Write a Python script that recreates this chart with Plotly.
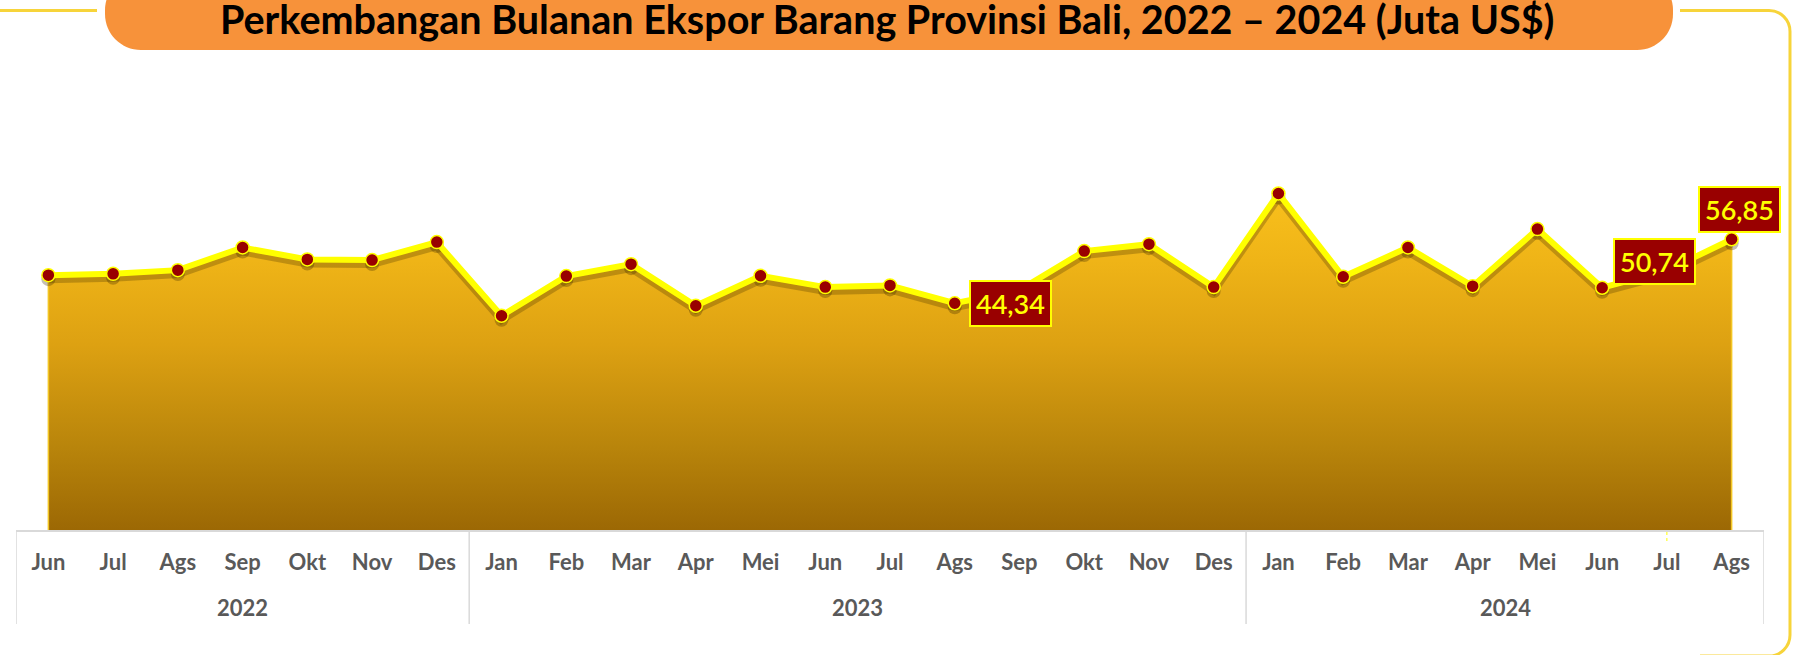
import plotly.graph_objects as go

# ---------------- data ----------------
months = ["Jun", "Jul", "Ags", "Sep", "Okt", "Nov", "Des",
          "Jan", "Feb", "Mar", "Apr", "Mei", "Jun", "Jul", "Ags", "Sep", "Okt", "Nov", "Des",
          "Jan", "Feb", "Mar", "Apr", "Mei", "Jun", "Jul", "Ags"]
years = ["2022"] * 7 + ["2023"] * 12 + ["2024"] * 8
ekspor = [49.84, 50.10, 50.82, 55.25, 52.91, 52.78, 56.30,
          41.89, 49.65, 51.99, 43.85, 49.72, 47.50, 47.83, 44.34, 46.90, 54.54, 55.90, 47.50,
          65.81, 49.52, 55.25, 47.69, 58.84, 47.37, 50.74, 56.85]
labelled_points = [14, 25, 26]
title_text = "Perkembangan Bulanan Ekspor Barang Provinsi Bali, 2022 – 2024 (Juta US$)"

# ---------------- geometry helpers ----------------
W, H = 1796, 655
L, R, T, B = 16, 32, 80, 125
PW, PH = W - L - R, H - T - B
Y_MAX = 88.0


def px(x):
    return (x - L) / PW


def py(y):
    return (H - B - y) / PH


def path(cmds):
    out = []
    for c in cmds:
        op, pts = c[0], c[1:]
        if op == "Z":
            out.append("Z")
            continue
        coords = []
        for i in range(0, len(pts), 2):
            coords.append(f"{px(pts[i]):.5f},{py(pts[i+1]):.5f}")
        out.append(op + " " + " ".join(coords))
    return " ".join(out)


def rrect(x0, y0, x1, y1, r):
    k = 0.5523 * r
    return path([
        ("M", x0 + r, y0), ("L", x1 - r, y0),
        ("C", x1 - r + k, y0, x1, y0 + r - k, x1, y0 + r),
        ("L", x1, y1 - r),
        ("C", x1, y1 - r + k, x1 - r + k, y1, x1 - r, y1),
        ("L", x0 + r, y1),
        ("C", x0 + r - k, y1, x0, y1 - r + k, x0, y1 - r),
        ("L", x0, y0 + r),
        ("C", x0, y0 + r - k, x0 + r - k, y0, x0 + r, y0),
        ("Z",),
    ])


idx = list(range(len(months)))
n = len(months)

fig = go.Figure()

# area fill (polygon closed down to zero)
fig.add_trace(go.Scatter(
    x=[idx[0]] + idx + [idx[-1]],
    y=[0] + ekspor + [0],
    mode="lines",
    fill="toself",
    line=dict(color="#F3C623", width=1.5),
    fillgradient=dict(type="vertical",
                      colorscale=[[0, "#9C6804"], [0.25, "#B9850B"], [0.55, "#DDA112"],
                                  [0.8, "#EFB417"], [1, "#F9C01C"]]),
    hoverinfo="skip", showlegend=False, yaxis="y",
))

# drop shadow of line
fig.add_trace(go.Scatter(
    x=idx, y=ekspor, mode="lines+markers",
    line=dict(color="rgba(80,55,0,0.30)", width=8),
    marker=dict(size=14, color="rgba(60,40,0,0.30)"),
    hoverinfo="skip", showlegend=False, yaxis="y2",
))

# main line
fig.add_trace(go.Scatter(
    x=idx, y=ekspor, mode="lines+markers",
    line=dict(color="#FFFF00", width=6),
    marker=dict(size=13, color="#990000", line=dict(color="#FFFF00", width=1.5)),
    showlegend=False, yaxis="y3", cliponaxis=False,
))

# value labels
label_offsets = {14: (56, 0), 25: (-12, 9), 26: (8, 30)}
annotations = []
for i in labelled_points:
    dx, dy = label_offsets[i]
    annotations.append(dict(
        x=i, y=ekspor[i], xref="x", yref="y",
        text=f"{ekspor[i]:.2f}".replace(".", ","),
        showarrow=False, xshift=dx, yshift=dy,
        font=dict(family="Lato", size=27, color="#FFFF00", weight=600),
        bgcolor="#990000", bordercolor="#FFFF00", borderwidth=2, borderpad=5,
    ))

# year labels and separators
year_groups = []
for i, yv in enumerate(years):
    if not year_groups or year_groups[-1][0] != yv:
        year_groups.append([yv, i, i])
    else:
        year_groups[-1][2] = i

shapes = []
sep_positions = [year_groups[0][1] - 0.5] + [g[2] + 0.5 for g in year_groups]
for s in sep_positions:
    shapes.append(dict(type="line", xref="x", yref="paper", x0=s, x1=s, y0=0, y1=py(624),
                       line=dict(color="#D9D9D9", width=1.5), layer="below"))
for g in year_groups:
    annotations.append(dict(
        x=(g[1] + g[2]) / 2, y=py(607), xref="x", yref="paper", text=g[0],
        showarrow=False, yanchor="middle",
        font=dict(family="Lato", size=22, color="#595959", weight="bold"),
    ))

# small dashed yellow tick under Jul 2024
shapes.append(dict(type="line", xref="x", yref="paper", x0=25, x1=25, y0=py(532), y1=py(542),
                   line=dict(color="#FFFF00", width=1, dash="dot")))

# title banner
shapes.append(dict(type="path", xref="paper", yref="paper", path=rrect(105, -26, 1673, 50, 36),
                   fillcolor="#F7923A", line=dict(width=0), layer="above"))
annotations.append(dict(
    x=px(887), y=py(19), xref="paper", yref="paper", text=f"<b>{title_text}</b>",
    showarrow=False, xanchor="center", yanchor="middle",
    font=dict(family="Lato", size=39.5, color="#000000"),
))

# decorative frame lines
shapes.append(dict(type="path", xref="paper", yref="paper",
                   path=path([("M", 0, 10.5), ("L", 97, 10.5)]),
                   line=dict(color="#F7D43A", width=3)))
r = 21
k = 0.5523 * r
shapes.append(dict(type="path", xref="paper", yref="paper",
                   path=path([("M", 1680, 10.5), ("L", 1790 - r, 10.5),
                              ("C", 1790 - r + k, 10.5, 1790, 10.5 + r - k, 1790, 10.5 + r),
                              ("L", 1790, 656 - r),
                              ("C", 1790, 656 - r + k, 1790 - r + k, 656, 1790 - r, 656),
                              ("L", 1700, 656)]),
                   line=dict(color="#F7D43A", width=3)))

d = 4 / (PH / Y_MAX)
fig.update_layout(
    width=W, height=H, autosize=False,
    margin=dict(l=L, r=R, t=T, b=B, pad=0),
    paper_bgcolor="white", plot_bgcolor="white",
    font=dict(family="Lato"),
    xaxis=dict(range=[-0.5, n - 0.5], tickmode="array", tickvals=idx, ticktext=months,
               showgrid=False, zeroline=False, showline=True, linecolor="#D9D9D9", linewidth=1.5,
               ticks="", ticklabelstandoff=12,
               tickfont=dict(family="Lato", size=22, color="#595959", weight="bold")),
    yaxis=dict(range=[0, Y_MAX], visible=False),
    yaxis2=dict(range=[d, Y_MAX + d], visible=False, overlaying="y"),
    yaxis3=dict(range=[0, Y_MAX], visible=False, overlaying="y"),
    shapes=shapes, annotations=annotations,
    showlegend=False,
)

fig.write_html("out.html", config={"displayModeBar": False},
               post_script="document.body.style.margin='0px';document.body.style.overflow='hidden';")
